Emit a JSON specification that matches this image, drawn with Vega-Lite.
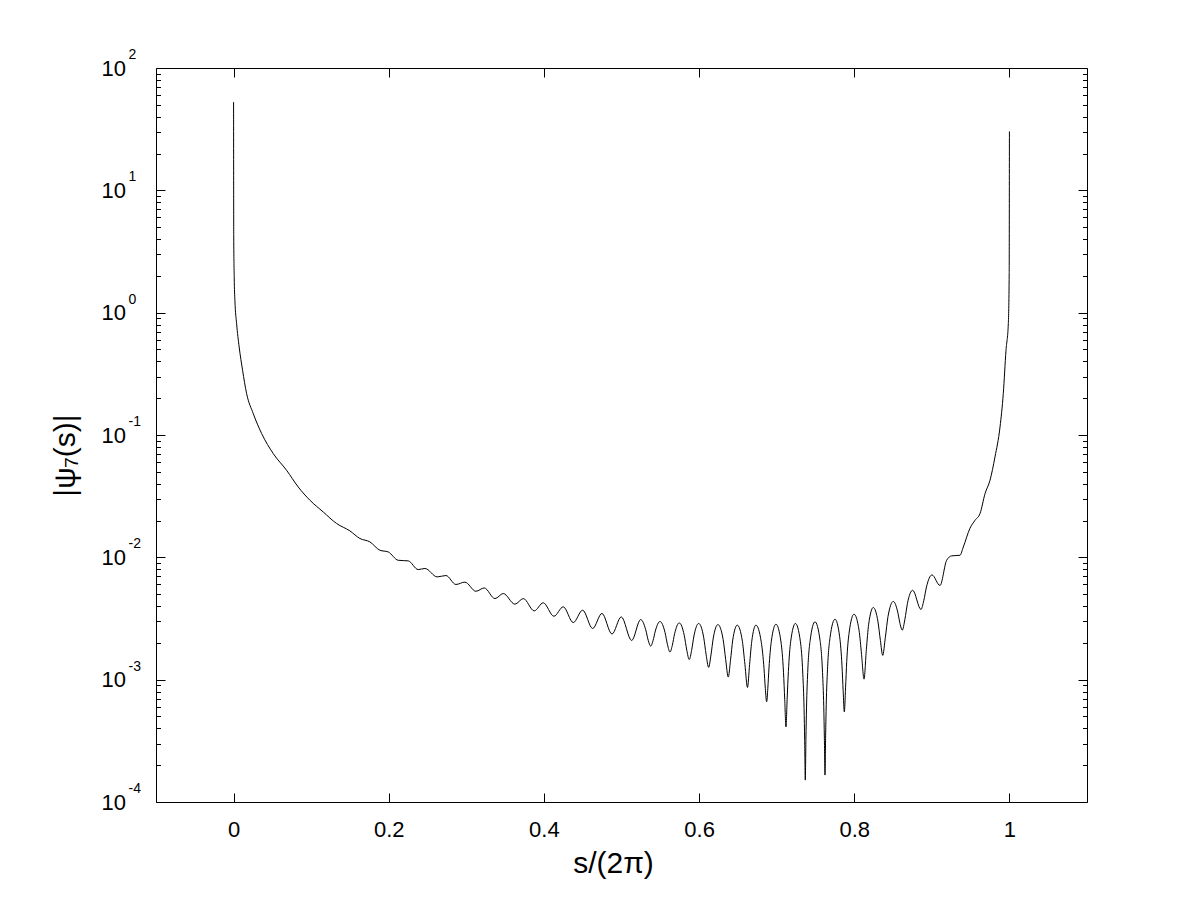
{
  "$schema": "https://vega.github.io/schema/vega-lite/v6.json",
  "width": 931,
  "height": 734,
  "autosize": {"type": "none"},
  "padding": {"left": 156, "top": 68, "right": 114, "bottom": 99},
  "background": "white",
  "config": {
    "view": {"stroke": "black", "strokeWidth": 1},
    "axis": {
      "labelFont": "Liberation Sans",
      "titleFont": "Liberation Sans",
      "labelColor": "black",
      "titleColor": "black",
      "tickColor": "black",
      "tickWidth": 1,
      "domain": false,
      "grid": false,
      "titleFontWeight": "normal",
      "labelOverlap": false,
      "labelFlush": false
    }
  },
  "resolve": {"axis": {"x": "independent", "y": "independent"}},
  "layer": [
    {
      "data": {"values": [
        {"s": 0, "v": 52.6}, {"s": 0.0002, "v": 4.15}, {"s": 0.0008, "v": 1.95}, {"s": 0.0017, "v": 1.26},
        {"s": 0.0039, "v": 0.815}, {"s": 0.0072, "v": 0.524}, {"s": 0.0116, "v": 0.338}, {"s": 0.0168, "v": 0.218},
        {"s": 0.0253, "v": 0.150}, {"s": 0.0361, "v": 0.103}, {"s": 0.0511, "v": 0.0705}, {"s": 0.0683, "v": 0.0515},
        {"s": 0.0833, "v": 0.0376}, {"s": 0.0984, "v": 0.0293}, {"s": 0.1155, "v": 0.0235}, {"s": 0.1328, "v": 0.0189},
        {"s": 0.150, "v": 0.01644}, {"s": 0.1628, "v": 0.01426}, {"s": 0.1757, "v": 0.01337}, {"s": 0.1886, "v": 0.01143},
        {"s": 0.1993, "v": 0.01107}, {"s": 0.2122, "v": 0.00946}, {"s": 0.2251, "v": 0.00935}, {"s": 0.2380, "v": 0.00794},
        {"s": 0.2466, "v": 0.00811}, {"s": 0.2625, "v": 0.00692}, {"s": 0.2737, "v": 0.00710}, {"s": 0.2866, "v": 0.00600},
        {"s": 0.2982, "v": 0.00627}, {"s": 0.3124, "v": 0.00528}, {"s": 0.3231, "v": 0.00562},
        {"s": 0.3369, "v": 0.00460}, {"s": 0.3476, "v": 0.00506}, {"s": 0.3626, "v": 0.00414}, {"s": 0.3735, "v": 0.00460},
        {"s": 0.3875, "v": 0.00365}, {"s": 0.3991, "v": 0.00425}, {"s": 0.4129, "v": 0.00330}, {"s": 0.4249, "v": 0.00394},
        {"s": 0.4378, "v": 0.00293}, {"s": 0.4499, "v": 0.00370}, {"s": 0.4628, "v": 0.00262}, {"s": 0.4748, "v": 0.00348},
        {"s": 0.4877, "v": 0.00236}, {"s": 0.4997, "v": 0.00326}, {"s": 0.5131, "v": 0.00209}, {"s": 0.5247, "v": 0.00310},
        {"s": 0.5312, "v": 0.00256}, {"s": 0.5344, "v": 0.00210}, {"s": 0.5376, "v": 0.00188}, {"s": 0.5406, "v": 0.00208},
        {"s": 0.5436, "v": 0.00250}, {"s": 0.5496, "v": 0.00299}, {"s": 0.5561, "v": 0.00243}, {"s": 0.5593, "v": 0.00193},
        {"s": 0.5625, "v": 0.00168}, {"s": 0.5655, "v": 0.00191}, {"s": 0.5685, "v": 0.00238}, {"s": 0.5744, "v": 0.00291},
        {"s": 0.5809, "v": 0.00230}, {"s": 0.5841, "v": 0.00175}, {"s": 0.5873, "v": 0.00146}, {"s": 0.5904, "v": 0.00174},
        {"s": 0.5934, "v": 0.00228}, {"s": 0.5995, "v": 0.00288}, {"s": 0.6059, "v": 0.00222}, {"s": 0.6091, "v": 0.00160},
        {"s": 0.6123, "v": 0.00126}, {"s": 0.6153, "v": 0.00159}, {"s": 0.6183, "v": 0.00219}, {"s": 0.6243, "v": 0.00282},
        {"s": 0.6310, "v": 0.00213}, {"s": 0.6343, "v": 0.00146}, {"s": 0.6376, "v": 0.00105}, {"s": 0.6405, "v": 0.00144},
        {"s": 0.6434, "v": 0.00211}, {"s": 0.6492, "v": 0.00279}, {"s": 0.6558, "v": 0.00206}, {"s": 0.6591, "v": 0.00133},
        {"s": 0.6624, "v": 0.000863}, {"s": 0.6651, "v": 0.00133}, {"s": 0.6679, "v": 0.00206}, {"s": 0.6733, "v": 0.00279},
        {"s": 0.6802, "v": 0.00202}, {"s": 0.6837, "v": 0.00123}, {"s": 0.6854, "v": 0.000845}, {"s": 0.6871, "v": 0.000659},
        {"s": 0.6886, "v": 0.000852}, {"s": 0.6901, "v": 0.001245}, {"s": 0.6931, "v": 0.00206}, {"s": 0.6991, "v": 0.00284},
        {"s": 0.7056, "v": 0.00203}, {"s": 0.7088, "v": 0.00115}, {"s": 0.7104, "v": 0.000686}, {"s": 0.7120, "v": 0.000411},
        {"s": 0.7135, "v": 0.000692}, {"s": 0.7151, "v": 0.001164}, {"s": 0.7181, "v": 0.00206}, {"s": 0.7242, "v": 0.00288},
        {"s": 0.7306, "v": 0.00204}, {"s": 0.7337, "v": 0.00111}, {"s": 0.7353, "v": 0.000581}, {"s": 0.7361, "v": 0.000318},
        {"s": 0.7369, "v": 0.000151}, {"s": 0.7377, "v": 0.000326}, {"s": 0.7385, "v": 0.000597}, {"s": 0.7400, "v": 0.001143},
        {"s": 0.7432, "v": 0.00210}, {"s": 0.7494, "v": 0.00297}, {"s": 0.7559, "v": 0.00210}, {"s": 0.7591, "v": 0.001146},
        {"s": 0.7607, "v": 0.000601}, {"s": 0.7615, "v": 0.000333}, {"s": 0.7623, "v": 0.000166}, {"s": 0.7631, "v": 0.000347},
        {"s": 0.7639, "v": 0.000630}, {"s": 0.7655, "v": 0.001204}, {"s": 0.7688, "v": 0.00221}, {"s": 0.7752, "v": 0.00312},
        {"s": 0.7812, "v": 0.00224}, {"s": 0.7842, "v": 0.001296}, {"s": 0.7857, "v": 0.000811}, {"s": 0.7872, "v": 0.000546},
        {"s": 0.7888, "v": 0.000857}, {"s": 0.7903, "v": 0.001405}, {"s": 0.7935, "v": 0.00245}, {"s": 0.7997, "v": 0.00343},
        {"s": 0.8062, "v": 0.00253}, {"s": 0.8094, "v": 0.00161}, {"s": 0.8126, "v": 0.00101}, {"s": 0.8156, "v": 0.00176},
        {"s": 0.8186, "v": 0.00284}, {"s": 0.8245, "v": 0.00389}, {"s": 0.8306, "v": 0.00297}, {"s": 0.8337, "v": 0.00209},
        {"s": 0.8367, "v": 0.00158}, {"s": 0.8401, "v": 0.00222}, {"s": 0.8435, "v": 0.00328}, {"s": 0.8503, "v": 0.00436},
        {"s": 0.8561, "v": 0.00356}, {"s": 0.8590, "v": 0.00287}, {"s": 0.8619, "v": 0.00254}, {"s": 0.8653, "v": 0.00312},
        {"s": 0.8686, "v": 0.00421}, {"s": 0.8753, "v": 0.00538}, {"s": 0.8860, "v": 0.00375}, {"s": 0.8896, "v": 0.00442},
        {"s": 0.8931, "v": 0.00573}, {"s": 0.9002, "v": 0.00718}, {"s": 0.9105, "v": 0.00589},
        {"s": 0.9191, "v": 0.00946}, {"s": 0.9256, "v": 0.01028}, {"s": 0.9363, "v": 0.0104}, {"s": 0.9406, "v": 0.01216},
        {"s": 0.9492, "v": 0.0173}, {"s": 0.9557, "v": 0.0201}, {"s": 0.9621, "v": 0.0228}, {"s": 0.9686, "v": 0.0332},
        {"s": 0.9750, "v": 0.0427}, {"s": 0.9814, "v": 0.0662}, {"s": 0.9879, "v": 0.1164}, {"s": 0.9921, "v": 0.218},
        {"s": 0.9956, "v": 0.492}, {"s": 0.9986, "v": 0.815}, {"s": 0.9997, "v": 2.08}, {"s": 1.0, "v": 30.3}
      ]},
      "mark": {"type": "line", "color": "black", "strokeWidth": 1, "interpolate": "monotone", "clip": true},
      "encoding": {
        "x": {
          "field": "s", "type": "quantitative",
          "scale": {"domain": [-0.1, 1.1], "nice": false, "zero": false},
          "axis": {
            "orient": "bottom", "values": [0, 0.2, 0.4, 0.6, 0.8, 1], "format": "~g",
            "ticks": false, "tickSize": 0, "labelPadding": 34, "labelBaseline": "alphabetic",
            "labelFontSize": 22,
            "title": "s/(2π)", "titleFontSize": 30, "titleX": 457, "titleY": 70,
            "titleAlign": "center", "titleBaseline": "alphabetic", "titleAnchor": "middle"
          }
        },
        "y": {
          "field": "v", "type": "quantitative",
          "scale": {"type": "log", "domain": [0.0001, 100], "nice": false},
          "axis": {
            "orient": "left", "values": [0.0001, 0.001, 0.01, 0.1, 1, 10, 100],
            "labelExpr": "'10'", "ticks": false, "tickSize": 0,
            "labelAlign": "left", "labelBaseline": "middle", "labelPadding": 55,
            "labelFontSize": 22,
            "title": "|ψ₇(s)|", "titleFontSize": 30, "titleAngle": 270,
            "titleX": -82, "titleY": 387, "titleAlign": "center", "titleBaseline": "alphabetic"
          }
        }
      }
    },
    {
      "data": {"values": [{"s": 0.5, "v": 0.01}]},
      "mark": {"type": "point", "opacity": 0},
      "encoding": {
        "x": {"field": "s", "type": "quantitative",
          "axis": {"orient": "bottom", "values": [0, 0.2, 0.4, 0.6, 0.8, 1], "labels": false, "ticks": true, "tickSize": -9, "title": null}},
        "y": {"field": "v", "type": "quantitative",
          "axis": {"orient": "left", "values": [0.0001, 0.001, 0.01, 0.1, 1, 10, 100],
            "labelExpr": "datum.value > 50 ? '2' : datum.value > 5 ? '1' : datum.value > 0.5 ? '0' : datum.value > 0.05 ? '-1' : datum.value > 0.005 ? '-2' : datum.value > 0.0005 ? '-3' : '-4'",
            "ticks": false, "tickSize": 0, "labelAlign": "left", "labelBaseline": "alphabetic",
            "labelPadding": 28, "labelOffset": -9.5, "labelFontSize": 14, "title": null}}
      }
    },
    {
      "data": {"values": [{"s": 0.5, "v": 0.01}]},
      "mark": {"type": "point", "opacity": 0},
      "encoding": {
        "x": {"field": "s", "type": "quantitative",
          "axis": {"orient": "top", "values": [0, 0.2, 0.4, 0.6, 0.8, 1], "labels": false, "ticks": true, "tickSize": -9, "title": null}},
        "y": {"field": "v", "type": "quantitative",
          "axis": {"orient": "left", "values": [0.0001, 0.001, 0.01, 0.1, 1, 10, 100], "labels": false, "ticks": true, "tickSize": -9, "title": null}}
      }
    },
    {
      "data": {"values": [{"s": 0.5, "v": 0.01}]},
      "mark": {"type": "point", "opacity": 0},
      "encoding": {
        "x": {"field": "s", "type": "quantitative", "axis": null},
        "y": {"field": "v", "type": "quantitative",
          "axis": {"orient": "left", "labels": false, "ticks": true, "tickSize": -4.5, "title": null,
            "values": [0.0002, 0.0003, 0.0004, 0.0005, 0.0006, 0.0007, 0.0008, 0.0009, 0.002, 0.003, 0.004, 0.005, 0.006, 0.007, 0.008, 0.009, 0.02, 0.03, 0.04, 0.05, 0.06, 0.07, 0.08, 0.09, 0.2, 0.3, 0.4, 0.5, 0.6, 0.7, 0.8, 0.9, 2, 3, 4, 5, 6, 7, 8, 9, 20, 30, 40, 50, 60, 70, 80, 90]}}
      }
    },
    {
      "data": {"values": [{"s": 0.5, "v": 0.01}]},
      "mark": {"type": "point", "opacity": 0},
      "encoding": {
        "x": {"field": "s", "type": "quantitative", "axis": null},
        "y": {"field": "v", "type": "quantitative",
          "axis": {"orient": "right", "values": [0.0001, 0.001, 0.01, 0.1, 1, 10, 100], "labels": false, "ticks": true, "tickSize": -9, "title": null}}
      }
    },
    {
      "data": {"values": [{"s": 0.5, "v": 0.01}]},
      "mark": {"type": "point", "opacity": 0},
      "encoding": {
        "x": {"field": "s", "type": "quantitative", "axis": null},
        "y": {"field": "v", "type": "quantitative",
          "axis": {"orient": "right", "labels": false, "ticks": true, "tickSize": -4.5, "title": null,
            "values": [0.0002, 0.0003, 0.0004, 0.0005, 0.0006, 0.0007, 0.0008, 0.0009, 0.002, 0.003, 0.004, 0.005, 0.006, 0.007, 0.008, 0.009, 0.02, 0.03, 0.04, 0.05, 0.06, 0.07, 0.08, 0.09, 0.2, 0.3, 0.4, 0.5, 0.6, 0.7, 0.8, 0.9, 2, 3, 4, 5, 6, 7, 8, 9, 20, 30, 40, 50, 60, 70, 80, 90]}}
      }
    }
  ]
}
